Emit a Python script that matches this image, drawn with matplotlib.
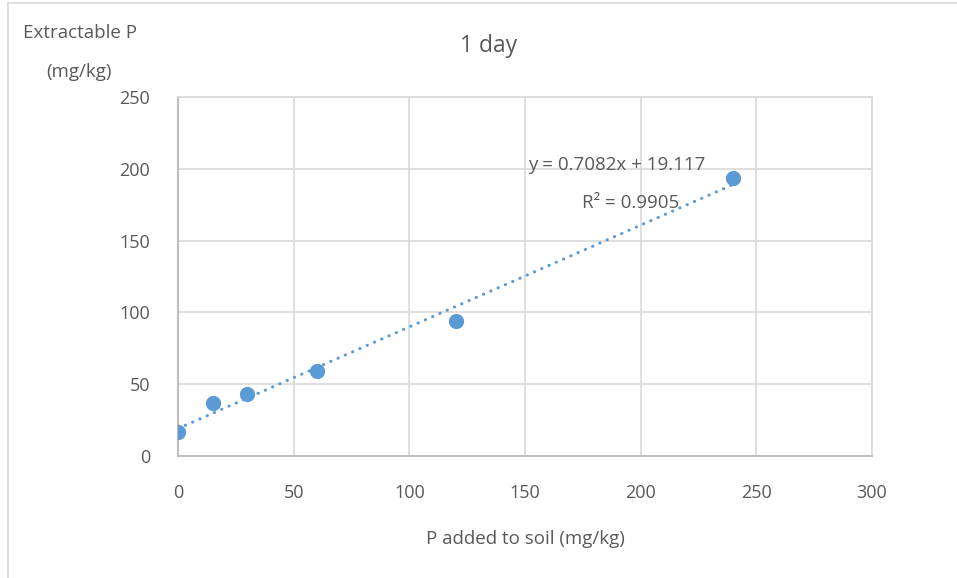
import numpy as np
import matplotlib
matplotlib.use("Agg")
import matplotlib.pyplot as plt
from matplotlib.patches import Rectangle

# data
p_added = [0, 15, 30, 60, 120, 240]
extractable_p = [16.7, 36.9, 43.2, 59.3, 94.0, 193.9]
x_ticks = [0, 50, 100, 150, 200, 250, 300]
y_ticks = [0, 50, 100, 150, 200, 250]

plt.rcParams['font.family'] = ['Open Sans', 'DejaVu Sans']
txt = '#595959'
blue = '#5B9BD5'

fig = plt.figure(figsize=(9.57, 5.78), dpi=100)
ax = fig.add_axes([178 / 957, 1 - 456 / 578, 694 / 957, 359 / 578])

# chart border like Excel
fig.patches.append(Rectangle((8 / 957, -0.1), 1.2, 1 - 3 / 578 + 0.1,
                             transform=fig.transFigure, fill=False,
                             edgecolor='#D9D9D9', linewidth=1.2))

# trendline from linear fit
slope, icpt = np.polyfit(p_added, extractable_p, 1)
r2 = np.corrcoef(p_added, extractable_p)[0, 1] ** 2
xf = np.array([0, 240])
ax.plot(xf, slope * xf + icpt, color=blue, linewidth=2.2,
        linestyle=(0, (0.1, 2.5)), dash_capstyle='round', zorder=2)
ax.scatter(p_added, extractable_p, s=120, color=blue, zorder=3, linewidths=0)

ax.set_xlim(0, 300)
ax.set_ylim(0, 250)
ax.set_xticks(x_ticks)
ax.set_yticks(y_ticks)
ax.grid(True, color='#D9D9D9', linewidth=1.2)
ax.set_axisbelow(True)
for s in ['top', 'right']:
    ax.spines[s].set_color('#D9D9D9')
    ax.spines[s].set_linewidth(1.2)
for s in ['left', 'bottom']:
    ax.spines[s].set_color('#BFBFBF')
    ax.spines[s].set_linewidth(1.5)
ax.tick_params(length=0, labelsize=13, colors=txt)
ax.tick_params(axis='x', pad=20)
ax.tick_params(axis='y', pad=20)

fig.text(489 / 957, 1 - 46 / 578, '1 day', ha='center', va='center',
         fontsize=16.5, color=txt)
fig.text(80 / 957, 1 - 33 / 578, 'Extractable P', ha='center', va='center',
         fontsize=13.5, color=txt)
fig.text(79 / 957, 1 - 72 / 578, '(mg/kg)', ha='center', va='center',
         fontsize=13.5, color=txt)
fig.text(525 / 957, 1 - 539 / 578, 'P added to soil (mg/kg)', ha='center',
         va='center', fontsize=13.5, color=txt)
fig.text(617 / 957, 1 - 165 / 578, f'y = {slope:.4f}x + {icpt:.3f}',
         ha='center', va='center', fontsize=13.5, color=txt)
fig.text(631 / 957, 1 - 203 / 578, f'R² = {r2:.4f}',
         ha='center', va='center', fontsize=13.5, color=txt)

fig.savefig('out.png', dpi=100)
